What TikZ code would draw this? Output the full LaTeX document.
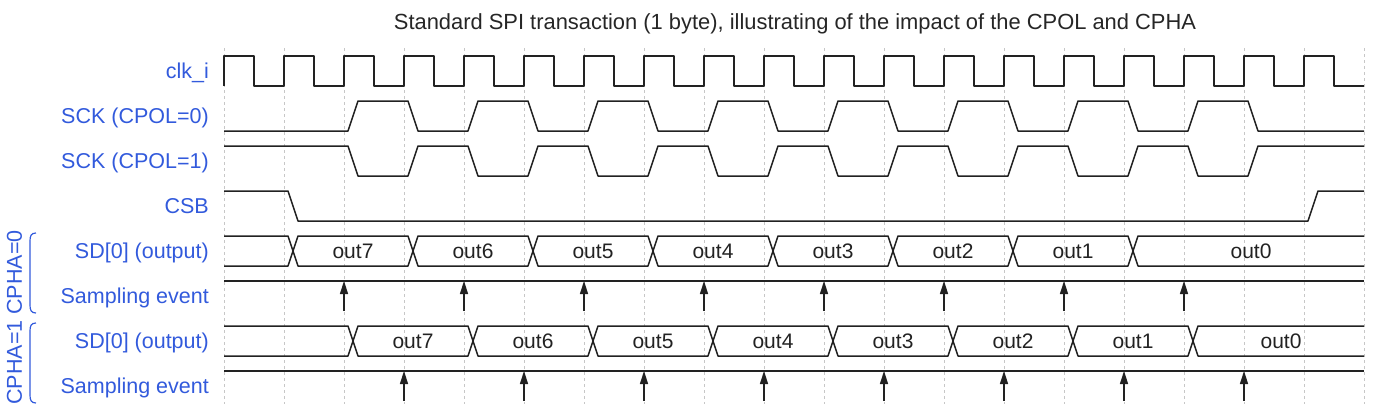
\documentclass[tikz,border=0pt]{standalone}
\usepackage{fontspec}
\setmainfont{Liberation Sans}
\usetikzlibrary{arrows.meta}
\definecolor{labelblue}{RGB}{50,90,220}
\definecolor{wavegray}{RGB}{34,34,34}

\begin{document}
\begin{tikzpicture}[x=1pt,y=-1pt,
  wave/.style={draw=wavegray, line width=1.5pt, line join=round},
  gridline/.style={draw=black!22, line width=0.8pt, dash pattern=on 3pt off 3pt},
  lbl/.style={anchor=base east, text=labelblue, inner sep=0pt, font=\fontsize{21.5}{25}\selectfont},
  val/.style={anchor=base, text=wavegray, inner sep=0pt, font=\fontsize{21}{25}\selectfont},
  phase/.style={rotate=90, text=labelblue, inner sep=0pt, font=\fontsize{21.5}{25}\selectfont},
  brace/.style={draw=labelblue, line width=1.2pt},
  sample/.style={draw=wavegray, line width=1.5pt, -{Triangle[length=13pt,width=8pt]}}]
  \useasboundingbox (0,0) rectangle (1374,418);

  \node[anchor=base, text=black!85, inner sep=0pt, font=\fontsize{21.9}{26}\selectfont] (title) at (795,29)
    {Standard SPI transaction (1 byte), illustrating of the impact of the CPOL and CPHA};

  % Grid
  \foreach \k in {0,...,19}
    \draw[gridline] (224+60*\k,48) -- (224+60*\k,404);

  % Signal names
  \node[lbl] (clk) at (209,78.5) {clk\_i};
  \node[lbl] (sckA) at (209,123.5) {SCK (CPOL=0)};
  \node[lbl] (sckB) at (209,168.5) {SCK (CPOL=1)};
  \node[lbl] (csb) at (209,213.5) {CSB};
  \node[lbl] (sdA) at (209,258.5) {SD[0] (output)};
  \node[lbl] (smpA) at (209,303.5) {Sampling event};
  \node[lbl] (sdB) at (209,348.5) {SD[0] (output)};
  \node[lbl] (smpB) at (209,393.5) {Sampling event};

  % Phase groups
  \node[phase] (cphaA) at (14.5,272.5) {CPHA=0};
  \node[phase] (cphaB) at (14.5,362.5) {CPHA=1};
  \draw[brace] (36,233) .. controls (31,233) and (30,236) .. (30,241) -- (30,305)
    .. controls (30,310) and (31,313) .. (36,313);
  \draw[brace] (36,323) .. controls (31,323) and (30,326) .. (30,331) -- (30,395)
    .. controls (30,400) and (31,403) .. (36,403);

  % clk_i
  \draw[wave] (224,86) \foreach \k in {0,...,18} {
    -- (224+60*\k,56) -- (254+60*\k,56) -- (254+60*\k,86) -- (284+60*\k,86) };

  % SCK, both polarities
  \draw[wave] (224,131) \foreach \j in {0,...,7} {
    -- (348+120*\j,131) -- (358+120*\j,101) -- (408+120*\j,101) -- (418+120*\j,131) } -- (1364,131);
  \draw[wave] (224,146) \foreach \j in {0,...,7} {
    -- (348+120*\j,146) -- (358+120*\j,176) -- (408+120*\j,176) -- (418+120*\j,146) } -- (1364,146);

  % CSB
  \draw[wave] (224,191) -- (288,191) -- (298,221) -- (1308,221) -- (1318,191) -- (1364,191);

  % SD[0], CPHA=0
  \draw[wave] (224,236) \foreach \g in {284,524,764,1004} {
    -- (\g+4,236) -- (\g+14,266) -- (\g+124,266) -- (\g+134,236) } -- (1364,236);
  \draw[wave] (224,266) \foreach \g in {284,524,764,1004} {
    -- (\g+4,266) -- (\g+14,236) -- (\g+124,236) -- (\g+134,266) } -- (1364,266);
  \foreach \v/\x in {out7/353,out6/473,out5/593,out4/713,out3/833,out2/953,out1/1073,out0/1251}
    \node[val] (a\v) at (\x,258.5) {\v};

  % Sampling, CPHA=0
  \draw[wave] (224,281) -- (1364,281);
  \foreach \j in {0,...,7}
    \draw[sample] (344+120*\j,311) -- (344+120*\j,281);

  % SD[0], CPHA=1
  \draw[wave] (224,326) \foreach \g in {344,584,824,1064} {
    -- (\g+4,326) -- (\g+14,356) -- (\g+124,356) -- (\g+134,326) } -- (1364,326);
  \draw[wave] (224,356) \foreach \g in {344,584,824,1064} {
    -- (\g+4,356) -- (\g+14,326) -- (\g+124,326) -- (\g+134,356) } -- (1364,356);
  \foreach \v/\x in {out7/413,out6/533,out5/653,out4/773,out3/893,out2/1013,out1/1133,out0/1281}
    \node[val] (b\v) at (\x,348.5) {\v};

  % Sampling, CPHA=1
  \draw[wave] (224,371) -- (1364,371);
  \foreach \j in {0,...,7}
    \draw[sample] (404+120*\j,401) -- (404+120*\j,371);
\end{tikzpicture}
\end{document}
